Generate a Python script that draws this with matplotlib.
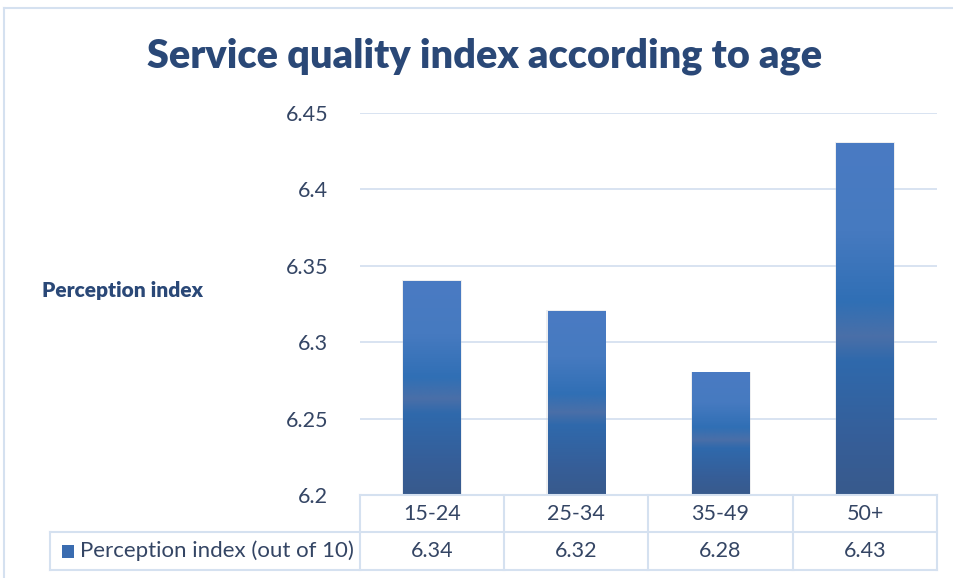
import matplotlib
matplotlib.use('Agg')
import matplotlib.pyplot as plt
import numpy as np
from matplotlib.colors import LinearSegmentedColormap
from matplotlib.patches import Rectangle
from matplotlib.lines import Line2D

plt.rcParams['font.family'] = ['Lato', 'DejaVu Sans']

# chart data
age_groups = ['15-24', '25-34', '35-49', '50+']
perception = [6.34, 6.32, 6.28, 6.43]
series_name = 'Perception index (out of 10)'
y_ticks = [6.2, 6.25, 6.3, 6.35, 6.4, 6.45]

W, H = 954, 578
fig = plt.figure(figsize=(W / 100, H / 100), dpi=100)

def fx(px):
    return px / W

def fy(py):
    return 1 - py / H

grid_col = '#D5E1F0'
text_col = '#344564'
dark_blue = '#2A4877'

# outer frame
fig.add_artist(Line2D([fx(4), fx(4)], [fy(8), 0], color=grid_col, lw=1.5))
fig.add_artist(Line2D([fx(4), 1], [fy(8), fy(8)], color=grid_col, lw=1.5))

ax = fig.add_axes([fx(360), fy(495), fx(937) - fx(360), fy(113) - fy(495)])

bar_cmap = LinearSegmentedColormap.from_list('bar', [
    (0.0, '#4A7BC3'), (0.25, '#467AC0'), (0.45, '#306FB5'),
    (0.55, '#4A6FA8'), (0.62, '#2F69AC'), (0.85, '#365E98'), (1.0, '#385A8C')])
grad = np.linspace(0, 1, 256).reshape(-1, 1)

bar_w = 0.40
for i, v in enumerate(perception):
    # soft shadow around each bar
    ax.add_patch(Rectangle((i - bar_w / 2 - 0.008, 6.2), bar_w + 0.016, v - 6.2 + 0.0008,
                           facecolor='#C4C8CE', alpha=0.3, edgecolor='none', zorder=2))
    ax.imshow(grad, extent=(i - bar_w / 2, i + bar_w / 2, 6.2, v), aspect='auto',
              cmap=bar_cmap, origin='upper', zorder=3, interpolation='bilinear')

ax.set_xlim(-0.5, len(age_groups) - 0.5)
ax.set_ylim(6.2, 6.45)
ax.set_yticks(y_ticks)
ax.set_yticklabels(['%g' % t for t in y_ticks])
ax.set_xticks([])
ax.tick_params(axis='y', length=0, pad=23, labelsize=15.5, labelcolor=text_col)
ax.yaxis.grid(True, color=grid_col, lw=1.3)
ax.set_axisbelow(True)
for s in ax.spines.values():
    s.set_visible(False)

# data table below the plot
col_edges = [360, 504, 648, 793, 937]
row_top, row_mid, row_bot = 495, 532, 570
tbl_left = 50
lines = [
    ([360, 937], [row_top, row_top]),
    ([tbl_left, 937], [row_mid, row_mid]),
    ([tbl_left, 937], [row_bot, row_bot]),
    ([tbl_left, tbl_left], [row_mid, row_bot]),
]
for x in col_edges:
    lines.append(([x, x], [row_top, row_bot]))
for xs, ys in lines:
    fig.add_artist(Line2D([fx(x) for x in xs], [fy(y) for y in ys], color=grid_col, lw=1.5))

for i, (g, v) in enumerate(zip(age_groups, perception)):
    cx = (col_edges[i] + col_edges[i + 1]) / 2
    fig.text(fx(cx), fy((row_top + row_mid) / 2), g, ha='center', va='center',
             fontsize=15.5, color=text_col)
    fig.text(fx(cx), fy((row_mid + row_bot) / 2), '%.2f' % v, ha='center', va='center',
             fontsize=15.5, color=text_col)

fig.add_artist(Rectangle((fx(62), fy(558)), fx(12), fy(545) - fy(558),
                         facecolor='#3A6CB0', edgecolor='none'))
fig.text(fx(80), fy((row_mid + row_bot) / 2), series_name, ha='left', va='center',
         fontsize=16, color=text_col)

fig.text(fx(485), fy(56), 'Service quality index according to age', ha='center',
         va='center', fontsize=28.5, fontweight='heavy', color=dark_blue)
fig.text(fx(42), fy(290), 'Perception index', ha='left', va='center',
         fontsize=15, fontweight='heavy', color=dark_blue)

fig.savefig('out.png', dpi=100)
